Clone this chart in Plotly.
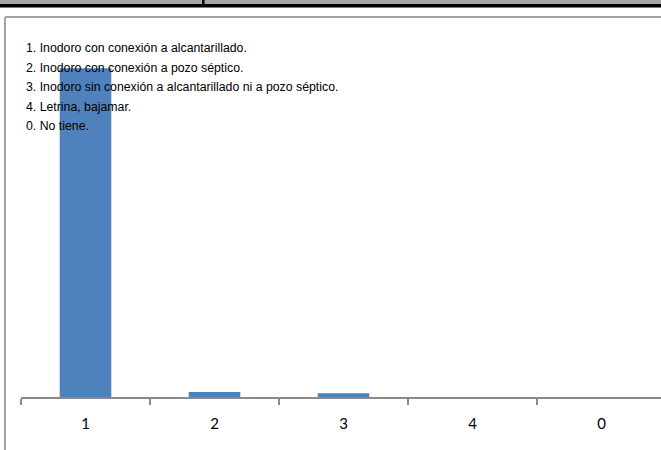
import plotly.graph_objects as go

categories = ["1", "2", "3", "4", "0"]
values = [97.3, 1.5, 1.1, 0.0, 0.0]
legend_lines = [
    "1. Inodoro con conexión a alcantarillado.",
    "2. Inodoro con conexión a pozo séptico.",
    "3. Inodoro sin conexión a alcantarillado ni a pozo séptico.",
    "4. Letrina, bajamar.",
    "0. No tiene.",
]

W, H = 661, 450

def px(x):
    return x / W

def py(y):
    return 1 - y / H

fig = go.Figure()
fig.add_trace(go.Bar(
    x=categories, y=values,
    marker=dict(color="#4f81bd", line=dict(width=0)),
    hoverinfo="skip",
))

step = 129.0
x_left = 21.0
x_right = 670.0
x_range_end = -0.5 + (W - x_left) / step

shapes = [
    dict(type="rect", xref="paper", yref="paper", x0=0, x1=1, y0=py(0), y1=py(4),
         fillcolor="#a6a6a6", line=dict(width=0), layer="above"),
    dict(type="rect", xref="paper", yref="paper", x0=0, x1=1, y0=py(4), y1=py(7.5),
         fillcolor="#000000", line=dict(width=0), layer="above"),
    dict(type="rect", xref="paper", yref="paper", x0=px(202), x1=px(204.5), y0=py(0), y1=py(4),
         fillcolor="#000000", line=dict(width=0), layer="above"),
    dict(type="line", xref="paper", yref="paper", x0=px(5), x1=1, y0=py(17), y1=py(17),
         line=dict(color="#a3a3a3", width=2)),
    dict(type="line", xref="paper", yref="paper", x0=px(5), x1=px(5), y0=py(17), y1=0,
         line=dict(color="#a3a3a3", width=2)),
]

annotations = []
for i, line in enumerate(legend_lines):
    annotations.append(dict(
        text=line, xref="paper", yref="paper", x=px(24), y=py(48 + i * 19.5),
        xanchor="left", yanchor="middle", showarrow=False,
        font=dict(family="Liberation Sans, Arial, sans-serif", size=12.3, color="#000000"),
    ))

fig.update_layout(
    width=W, height=H,
    margin=dict(l=0, r=0, t=0, b=0),
    paper_bgcolor="white", plot_bgcolor="white",
    showlegend=False,
    bargap=0.6,
    shapes=shapes,
    annotations=annotations,
    xaxis=dict(
        type="category",
        domain=[px(x_left), 1],
        range=[-0.5, x_range_end],
        tickson="boundaries",
        ticks="outside", ticklen=6, tickwidth=1.5, tickcolor="#8a8a8a",
        showline=True, linecolor="#8a8a8a", linewidth=1.5,
        showgrid=False, zeroline=False,
        tickfont=dict(family="Lato, Open Sans, sans-serif", size=15, color="#000000"),
        ticklabelstandoff=12,
    ),
    yaxis=dict(
        domain=[1 - 397 / H, 1 - 59 / H],
        range=[0, 100],
        visible=False, showline=False,
        showgrid=False, zeroline=False,
    ),
)

fig.write_html(
    "out.html",
    config={"displayModeBar": False},
    post_script="document.body.style.margin='0px';document.body.style.overflow='hidden';document.documentElement.style.overflow='hidden';",
)
